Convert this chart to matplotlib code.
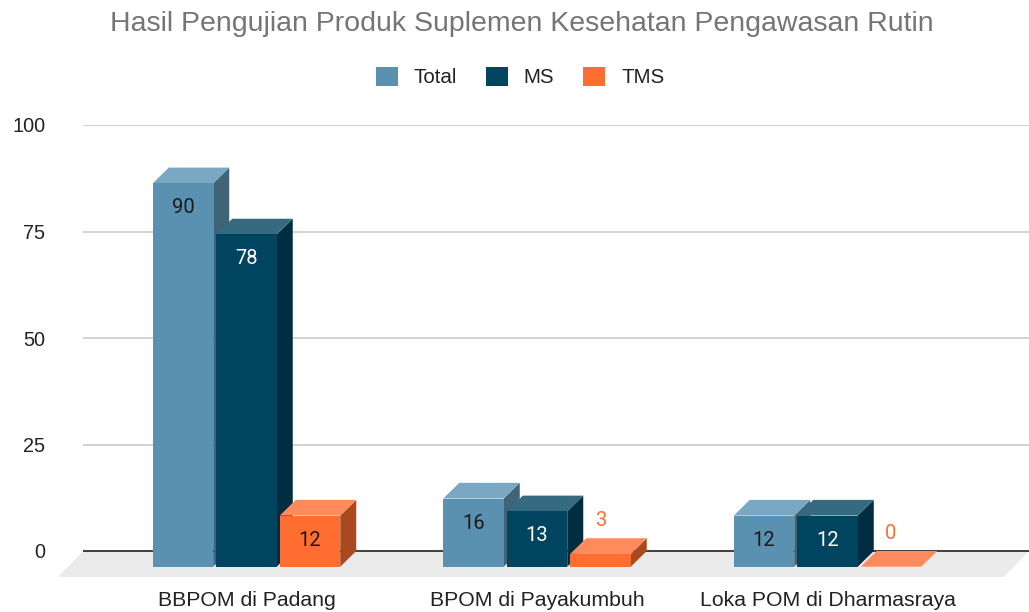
import matplotlib
matplotlib.use('Agg')
import matplotlib.pyplot as plt
from matplotlib.patches import Polygon, Patch
import numpy as np

# ---- data ----
categories = ['BBPOM di Padang', 'BPOM di Payakumbuh', 'Loka POM di Dharmasraya']
series_names = ['Total', 'MS', 'TMS']
total = [90, 16, 12]
ms = [78, 13, 12]
tms = [12, 3, 0]
yticks = [0, 25, 50, 75, 100]
ytick_labels = ['0', '25', '50', '75', '100']
title = 'Hasil Pengujian Produk Suplemen Kesehatan Pengawasan Rutin'

# ---- styles ----
front_cols = ['#5A91B1', '#01445F', '#FF6D31']
top_cols = ['#7AA8C2', '#366A81', '#FF8A5B']
side_cols = ['#3F6478', '#002D40', '#A84A1E']
inside_text = ['#1a1a1a', '#ffffff', '#1a1a1a']

W, H = 1029, 612
DPI = 100
fig = plt.figure(figsize=(W / DPI, H / DPI), dpi=DPI)

# axes geometry in pixels (back plane)
ax_left, ax_right = 83, 1029
ax_top, ax_bot = 125, 577
zero_px = 551
ax = fig.add_axes([ax_left / W, (H - ax_bot) / H, (ax_right - ax_left) / W, (ax_bot - ax_top) / H])

px_per_y = (zero_px - ax_top) / 100.0
ymin = -(ax_bot - zero_px) / px_per_y
ax.set_ylim(ymin, 100)

pitch_px = 290.5
first_center_px = 246.5
xl = (ax_left - first_center_px) / pitch_px
xr = (ax_right - first_center_px) / pitch_px
ax.set_xlim(xl, xr)
px_per_x = pitch_px

# 3D offsets
ox, oy = 16.0, 15.7
dx = ox / px_per_x
dy = oy / px_per_y
bw = 60.5 / px_per_x
step = 63.5 / px_per_x

for s in ax.spines.values():
    s.set_visible(False)

ax.set_yticks(yticks)
ax.set_yticklabels(ytick_labels, fontfamily='Liberation Sans', fontsize=14.3, color='#222222')
ax.tick_params(axis='y', length=0, pad=27)
ax.yaxis.grid(True, color='#cccccc', lw=1.2, zorder=0)
ax.set_axisbelow(True)

x = np.arange(len(categories))
ax.set_xticks(x)
ax.set_xticklabels(categories, fontfamily='Liberation Sans', fontsize=15.3, color='#222222')
ax.tick_params(axis='x', length=0, pad=10)

# floor
fdx = 25 / px_per_x
floor = Polygon([(xl, 0), (xr, 0), (xr - fdx, ymin), (xl - fdx, ymin)],
                closed=True, facecolor='#ebebeb', edgecolor='none', zorder=1, clip_on=False)
ax.add_patch(floor)
ax.axhline(0, color='#333333', lw=1.3, zorder=2)

data = [total, ms, tms]
for si, vals in enumerate(data):
    offs = (si - 1) * step
    xs = x + offs
    ax.bar(xs, vals, width=bw, bottom=-dy, color=front_cols[si], zorder=4, clip_on=False, linewidth=0)
    for xi, v in zip(xs, vals):
        l, r = xi - bw / 2, xi + bw / 2
        top = Polygon([(l, v - dy), (r, v - dy), (r + dx, v), (l + dx, v)], closed=True,
                      facecolor=top_cols[si], edgecolor='none', zorder=3, clip_on=False)
        side = Polygon([(r, -dy), (r + dx, 0), (r + dx, v), (r, v - dy)], closed=True,
                       facecolor=side_cols[si], edgecolor='none', zorder=3, clip_on=False)
        ax.add_patch(side)
        ax.add_patch(top)
        if v * px_per_y > 30:
            ax.annotate(str(v), xy=(xi, v - dy), xytext=(0, -24.5), textcoords='offset pixels',
                        ha='center', va='center', fontfamily='Roboto', fontsize=14.5,
                        color=inside_text[si], zorder=6)
        else:
            ax.annotate(str(v), xy=(xi, v - dy), xytext=(0, 33), textcoords='offset pixels',
                        ha='center', va='center', fontfamily='Roboto', fontsize=14.5,
                        color=front_cols[si], zorder=6)

# title
fig.text(521.5 / W, 1 - 24 / H, title, ha='center', va='center',
         fontfamily='Liberation Sans', fontsize=20.5, color='#757575')

# legend
handles = [Patch(facecolor=c, edgecolor='none') for c in front_cols]
leg = fig.legend(handles, series_names, loc='center', bbox_to_anchor=(520 / W, 1 - 77 / H),
                 ncol=3, frameon=False, prop={'family': 'Liberation Sans', 'size': 14.8},
                 handlelength=1.07, handleheight=1.07, handletextpad=0.78, columnspacing=1.4)
for t in leg.get_texts():
    t.set_color('#222222')

fig.savefig('out.png', dpi=DPI)
